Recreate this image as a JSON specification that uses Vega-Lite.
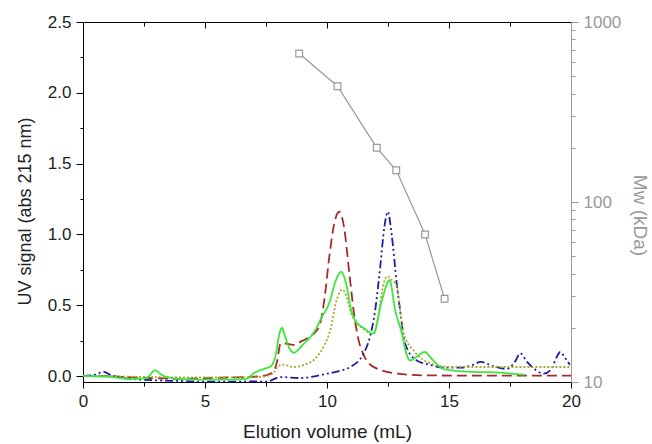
{
  "$schema": "https://vega.github.io/schema/vega-lite/v6.json",
  "width": 488,
  "height": 360,
  "autosize": "none",
  "padding": {"left": 83, "top": 22, "right": 81, "bottom": 62},
  "background": "white",
  "config": {
    "view": {"stroke": "#000", "strokeWidth": 1},
    "axis": {
      "labelFont": "Liberation Sans", "titleFont": "Liberation Sans",
      "labelFontSize": 17, "titleFontSize": 19, "titleFontWeight": "normal",
      "grid": false, "labelColor": "#222", "titleColor": "#222", "labelFlush": false,
      "domainColor": "#000", "tickColor": "#000", "tickWidth": 1, "domainWidth": 1
    }
  },
  "datasets": {
    "uv": [
      {"s": "A", "x": 0, "y": 0}, {"s": "A", "x": 1, "y": 0}, {"s": "A", "x": 2, "y": -0.01}, {"s": "A", "x": 3, "y": -0.015},
      {"s": "A", "x": 4, "y": -0.02}, {"s": "A", "x": 5, "y": -0.015}, {"s": "A", "x": 6, "y": -0.01}, {"s": "A", "x": 7, "y": -0.005},
      {"s": "A", "x": 7.5, "y": 0.005}, {"s": "A", "x": 7.8, "y": 0.03}, {"s": "A", "x": 7.95, "y": 0.1}, {"s": "A", "x": 8.1, "y": 0.23},
      {"s": "A", "x": 8.3, "y": 0.23}, {"s": "A", "x": 8.6, "y": 0.22}, {"s": "A", "x": 9.0, "y": 0.25}, {"s": "A", "x": 9.4, "y": 0.29},
      {"s": "A", "x": 9.7, "y": 0.36}, {"s": "A", "x": 9.9, "y": 0.55}, {"s": "A", "x": 10.1, "y": 0.85}, {"s": "A", "x": 10.3, "y": 1.08},
      {"s": "A", "x": 10.5, "y": 1.16}, {"s": "A", "x": 10.7, "y": 1.05}, {"s": "A", "x": 10.9, "y": 0.75}, {"s": "A", "x": 11.1, "y": 0.45},
      {"s": "A", "x": 11.3, "y": 0.25}, {"s": "A", "x": 11.5, "y": 0.15}, {"s": "A", "x": 11.9, "y": 0.065}, {"s": "A", "x": 12.9, "y": 0.017},
      {"s": "A", "x": 14, "y": 0.005}, {"s": "A", "x": 16, "y": 0.003}, {"s": "A", "x": 18, "y": 0.003}, {"s": "A", "x": 20, "y": 0.003},

      {"s": "B", "x": 0, "y": 0}, {"s": "B", "x": 0.5, "y": 0.01}, {"s": "B", "x": 0.85, "y": 0.03}, {"s": "B", "x": 1.2, "y": 0.0},
      {"s": "B", "x": 2, "y": -0.02}, {"s": "B", "x": 3, "y": -0.03}, {"s": "B", "x": 4, "y": -0.035}, {"s": "B", "x": 5, "y": -0.04},
      {"s": "B", "x": 6, "y": -0.04}, {"s": "B", "x": 7, "y": -0.038}, {"s": "B", "x": 7.5, "y": -0.04}, {"s": "B", "x": 8.1, "y": -0.007},
      {"s": "B", "x": 8.9, "y": -0.014}, {"s": "B", "x": 10.0, "y": 0.017}, {"s": "B", "x": 10.5, "y": 0.035}, {"s": "B", "x": 10.95, "y": 0.064},
      {"s": "B", "x": 11.5, "y": 0.16}, {"s": "B", "x": 11.75, "y": 0.27}, {"s": "B", "x": 11.97, "y": 0.46}, {"s": "B", "x": 12.18, "y": 0.77},
      {"s": "B", "x": 12.35, "y": 1.05}, {"s": "B", "x": 12.49, "y": 1.16}, {"s": "B", "x": 12.65, "y": 1.0}, {"s": "B", "x": 12.86, "y": 0.65},
      {"s": "B", "x": 13.0, "y": 0.46}, {"s": "B", "x": 13.2, "y": 0.23}, {"s": "B", "x": 13.68, "y": 0.11}, {"s": "B", "x": 14.2, "y": 0.08},
      {"s": "B", "x": 14.8, "y": 0.06}, {"s": "B", "x": 15.5, "y": 0.06}, {"s": "B", "x": 16.0, "y": 0.08}, {"s": "B", "x": 16.3, "y": 0.1},
      {"s": "B", "x": 16.8, "y": 0.07}, {"s": "B", "x": 17.37, "y": 0.05}, {"s": "B", "x": 17.7, "y": 0.1}, {"s": "B", "x": 17.92, "y": 0.16},
      {"s": "B", "x": 18.2, "y": 0.1}, {"s": "B", "x": 18.5, "y": 0.05}, {"s": "B", "x": 18.88, "y": 0.017}, {"s": "B", "x": 19.2, "y": 0.05},
      {"s": "B", "x": 19.4, "y": 0.13}, {"s": "B", "x": 19.56, "y": 0.17}, {"s": "B", "x": 19.75, "y": 0.13}, {"s": "B", "x": 19.95, "y": 0.08},

      {"s": "C", "x": 0, "y": 0}, {"s": "C", "x": 2, "y": -0.005}, {"s": "C", "x": 4, "y": -0.01}, {"s": "C", "x": 6, "y": -0.01},
      {"s": "C", "x": 7, "y": -0.01}, {"s": "C", "x": 7.5, "y": 0.0}, {"s": "C", "x": 7.8, "y": 0.02}, {"s": "C", "x": 8.0, "y": 0.07},
      {"s": "C", "x": 8.2, "y": 0.08}, {"s": "C", "x": 8.62, "y": 0.064}, {"s": "C", "x": 9.0, "y": 0.075}, {"s": "C", "x": 9.58, "y": 0.135},
      {"s": "C", "x": 9.9, "y": 0.22}, {"s": "C", "x": 10.13, "y": 0.32}, {"s": "C", "x": 10.4, "y": 0.54}, {"s": "C", "x": 10.62, "y": 0.61},
      {"s": "C", "x": 10.8, "y": 0.56}, {"s": "C", "x": 10.95, "y": 0.46}, {"s": "C", "x": 11.22, "y": 0.38}, {"s": "C", "x": 11.5, "y": 0.33},
      {"s": "C", "x": 11.9, "y": 0.3}, {"s": "C", "x": 12.1, "y": 0.42}, {"s": "C", "x": 12.3, "y": 0.64}, {"s": "C", "x": 12.48, "y": 0.705},
      {"s": "C", "x": 12.65, "y": 0.68}, {"s": "C", "x": 12.86, "y": 0.63}, {"s": "C", "x": 13.14, "y": 0.3}, {"s": "C", "x": 13.55, "y": 0.18},
      {"s": "C", "x": 14.23, "y": 0.09}, {"s": "C", "x": 15, "y": 0.065}, {"s": "C", "x": 16, "y": 0.064}, {"s": "C", "x": 17, "y": 0.064},
      {"s": "C", "x": 18, "y": 0.064}, {"s": "C", "x": 19, "y": 0.064}, {"s": "C", "x": 20, "y": 0.064},

      {"s": "D", "x": 0, "y": 0}, {"s": "D", "x": 1, "y": -0.005}, {"s": "D", "x": 2, "y": -0.02}, {"s": "D", "x": 2.6, "y": -0.015},
      {"s": "D", "x": 2.95, "y": 0.04}, {"s": "D", "x": 3.3, "y": 0.0}, {"s": "D", "x": 4, "y": -0.02}, {"s": "D", "x": 5, "y": -0.025},
      {"s": "D", "x": 6, "y": -0.025}, {"s": "D", "x": 6.7, "y": -0.02}, {"s": "D", "x": 7.0, "y": 0.02}, {"s": "D", "x": 7.4, "y": 0.05},
      {"s": "D", "x": 7.7, "y": 0.07}, {"s": "D", "x": 7.9, "y": 0.15}, {"s": "D", "x": 8.05, "y": 0.3}, {"s": "D", "x": 8.15, "y": 0.34},
      {"s": "D", "x": 8.3, "y": 0.27}, {"s": "D", "x": 8.45, "y": 0.2}, {"s": "D", "x": 8.63, "y": 0.165}, {"s": "D", "x": 9.0, "y": 0.22},
      {"s": "D", "x": 9.5, "y": 0.32}, {"s": "D", "x": 9.8, "y": 0.42}, {"s": "D", "x": 10.1, "y": 0.52}, {"s": "D", "x": 10.35, "y": 0.67},
      {"s": "D", "x": 10.58, "y": 0.736}, {"s": "D", "x": 10.8, "y": 0.64}, {"s": "D", "x": 11.0, "y": 0.46}, {"s": "D", "x": 11.2, "y": 0.38},
      {"s": "D", "x": 11.5, "y": 0.34}, {"s": "D", "x": 11.9, "y": 0.3}, {"s": "D", "x": 12.25, "y": 0.535}, {"s": "D", "x": 12.56, "y": 0.677},
      {"s": "D", "x": 12.8, "y": 0.46}, {"s": "D", "x": 13.07, "y": 0.3}, {"s": "D", "x": 13.25, "y": 0.16}, {"s": "D", "x": 13.4, "y": 0.11},
      {"s": "D", "x": 13.7, "y": 0.14}, {"s": "D", "x": 14.0, "y": 0.17}, {"s": "D", "x": 14.3, "y": 0.12}, {"s": "D", "x": 14.78, "y": 0.05},
      {"s": "D", "x": 15.87, "y": 0.03}, {"s": "D", "x": 17.0, "y": 0.025}, {"s": "D", "x": 17.9, "y": 0.012}, {"s": "D", "x": 18.1, "y": 0.01}
    ],
    "mw": [
      {"v": 8.86, "mw": 669}, {"v": 10.43, "mw": 440}, {"v": 12.04, "mw": 200},
      {"v": 12.84, "mw": 150}, {"v": 14.02, "mw": 66}, {"v": 14.82, "mw": 29}
    ]
  },
  "layer": [
    {
      "data": {"name": "uv"},
      "mark": {"type": "line", "interpolate": "monotone"},
      "encoding": {
        "x": {
          "field": "x", "type": "quantitative",
          "scale": {"domain": [0, 20], "nice": false, "zero": false},
          "axis": {
            "orient": "bottom", "title": "Elution volume (mL)",
            "values": [0, 2.5, 5, 7.5, 10, 12.5, 15, 17.5, 20],
            "labelExpr": "datum.value % 5 === 0 ? format(datum.value, 'd') : ''",
            "tickSize": {"condition": {"test": "datum.value % 5 !== 0", "value": 4}, "value": 6},
            "labelPadding": 5, "titlePadding": 13, "labelFlush": false
          }
        },
        "y": {
          "field": "y", "type": "quantitative",
          "scale": {"domain": [-0.042, 2.5], "nice": false, "zero": false},
          "axis": {
            "orient": "left", "title": "UV signal (abs 215 nm)",
            "values": [0, 0.25, 0.5, 0.75, 1, 1.25, 1.5, 1.75, 2, 2.25, 2.5],
            "labelExpr": "datum.value % 0.5 === 0 ? format(datum.value, '.1f') : ''",
            "tickSize": {"condition": {"test": "datum.value % 0.5 !== 0", "value": 3}, "value": 7},
            "labelPadding": 5, "titlePadding": 13, "titleFontSize": 18, "titleY": 189, "labelFlush": false
          }
        },
        "color": {
          "field": "s", "type": "nominal",
          "scale": {"domain": ["A", "B", "C", "D"], "range": ["#a52a2a", "#1c1ca6", "#a8a828", "#3ce63c"]},
          "legend": null
        },
        "strokeDash": {
          "field": "s", "type": "nominal",
          "scale": {"domain": ["A", "B", "C", "D"], "range": [[10, 5], [8, 3, 2, 3, 2, 3], [2, 2], [1, 0]]},
          "legend": null
        },
        "strokeWidth": {
          "field": "s", "type": "nominal",
          "scale": {"domain": ["A", "B", "C", "D"], "range": [1.8, 1.8, 1.6, 2.6]},
          "legend": null
        }
      }
    },
    {
      "data": {"name": "mw"},
      "mark": {
        "type": "line", "color": "#999", "strokeWidth": 1.2,
        "point": {"shape": "square", "filled": false, "fill": "white", "stroke": "#999", "strokeWidth": 1.2, "size": 45, "opacity": 1}
      },
      "encoding": {
        "x": {
          "field": "v", "type": "quantitative",
          "axis": {
            "orient": "top", "title": null, "labels": false, "domain": false,
            "values": [0, 2.5, 5, 7.5, 10, 12.5, 15, 17.5, 20],
            "tickSize": {"condition": {"test": "datum.value % 5 !== 0", "value": -4}, "value": -6}
          }
        },
        "y": {
          "field": "mw", "type": "quantitative",
          "scale": {"type": "log", "domain": [10, 1000], "nice": false},
          "axis": {
            "orient": "right", "title": "Mw (kDa)",
            "values": [10, 20, 30, 40, 50, 60, 70, 80, 90, 100, 200, 300, 400, 500, 600, 700, 800, 900, 1000],
            "labelExpr": "(datum.value === 10 || datum.value === 100 || datum.value === 1000) ? format(datum.value, 'd') : ''",
            "tickSize": {"condition": {"test": "datum.value !== 10 && datum.value !== 100 && datum.value !== 1000", "value": 4}, "value": 7},
            "domainColor": "#999", "tickColor": "#999", "labelColor": "#999", "titleColor": "#999",
            "labelPadding": 5, "titlePadding": 9, "titleFontSize": 19, "titleY": 193, "labelFlush": false
          }
        }
      }
    }
  ],
  "resolve": {"scale": {"y": "independent"}, "axis": {"x": "independent"}}
}
